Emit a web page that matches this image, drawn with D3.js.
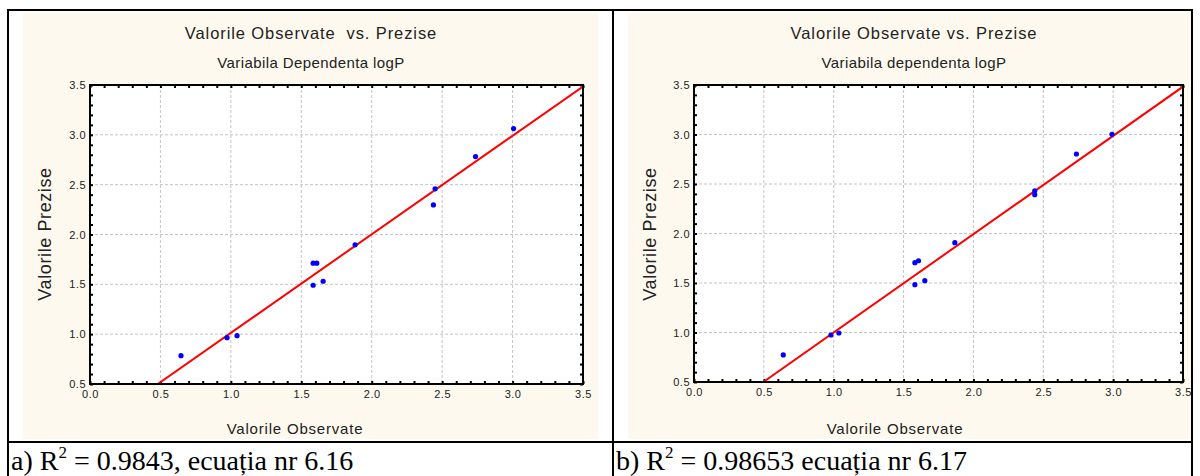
<!DOCTYPE html>
<html>
<head>
<meta charset="utf-8">
<script src="https://cdn.jsdelivr.net/npm/d3@7"></script>
<style>
  html, body { margin: 0; padding: 0; background: #fff; }
  svg { display: block; }
  .tick text { font-family: "Liberation Sans", Arial, sans-serif; }
</style>
</head>
<body>
<div id="chart"></div>
<script>
// ── Data ───────────────────────────────────────────────────────────────
const obsA = [0.646, 0.973, 1.044, 1.584, 1.610, 1.584, 1.655, 1.882, 2.450, 2.438, 2.737, 3.007];
const predA = [0.784, 0.965, 0.985, 1.712, 1.712, 1.491, 1.531, 1.896, 2.458, 2.297, 2.782, 3.063];
const fitA = [0.024, 0.989]; // intercept, slope

const obsB = [0.639, 0.980, 1.037, 1.581, 1.607, 1.581, 1.652, 1.867, 2.439, 2.439, 2.737, 2.992];
const predB = [0.773, 0.975, 0.995, 1.705, 1.725, 1.483, 1.523, 1.907, 2.432, 2.392, 2.803, 3.002];
const fitB = [0.0075, 0.993];

const xTicks = [0.0, 0.5, 1.0, 1.5, 2.0, 2.5, 3.0, 3.5];
const yTicks = [0.5, 1.0, 1.5, 2.0, 2.5, 3.0, 3.5];
const minorStep = 0.1;

const panels = [
  {
    title1: "Valorile Observate  vs. Prezise",
    title2: "Variabila Dependenta logP",
    xLabel: "Valorile Observate",
    yLabel: "Valorile Prezise",
    obs: obsA, pred: predA, fit: fitA,
    caption: ["a) R", "2", " = 0.9843, ecuația nr 6.16"],
    bg: [23, 13, 598, 439],
    plot: [90, 85, 583, 384],
    titleX: 311, xLabelX: 295, yLabelX: 45,
    captionX: 11,
  },
  {
    title1: "Valorile Observate vs. Prezise",
    title2: "Variabila dependenta logP",
    xLabel: "Valorile Observate",
    yLabel: "Valorile Prezise",
    obs: obsB, pred: predB, fit: fitB,
    caption: ["b) R", "2", " = 0.98653 ecuația nr 6.17"],
    bg: [628, 13, 1191, 439],
    plot: [694, 85, 1183, 382],
    titleX: 914, xLabelX: 895, yLabelX: 650,
    captionX: 616,
  },
];

// ── SVG ────────────────────────────────────────────────────────────────
const W = 1200, H = 476;
const svg = d3.select("#chart").append("svg").attr("width", W).attr("height", H);
const FONT = "'Liberation Sans', Arial, sans-serif";

panels.forEach((p) => {
  const [bx0, by0, bx1, by1] = p.bg;
  const [px0, py0, px1, py1] = p.plot;

  svg.append("rect")
    .attr("x", bx0).attr("y", by0)
    .attr("width", bx1 - bx0).attr("height", by1 - by0)
    .attr("fill", "#fdf9ee");

  const x = d3.scaleLinear().domain([0, 3.5]).range([px0, px1]);
  const y = d3.scaleLinear().domain([0.5, 3.5]).range([py1, py0]);
  const w = px1 - px0, h = py1 - py0;

  svg.append("rect")
    .attr("x", px0).attr("y", py0).attr("width", w).attr("height", h)
    .attr("fill", "#fff");

  // grid
  const grid = svg.append("g").attr("stroke", "#c4c4c4").attr("stroke-dasharray", "3,2");
  xTicks.slice(1, -1).forEach((t) => {
    grid.append("line").attr("x1", x(t)).attr("x2", x(t)).attr("y1", py0).attr("y2", py1);
  });
  yTicks.slice(1, -1).forEach((t) => {
    grid.append("line").attr("x1", px0).attr("x2", px1).attr("y1", y(t)).attr("y2", y(t));
  });

  // minor ticks on all four sides, pointing inward
  const minorX = d3.range(xTicks[0], xTicks[xTicks.length - 1] + 1e-6, minorStep);
  const minorY = d3.range(yTicks[0], yTicks[yTicks.length - 1] + 1e-6, minorStep);
  const tickAxis = (axis, vals, tr) => {
    const g = svg.append("g").attr("transform", tr)
      .call(axis.tickValues(vals).tickSize(-3).tickFormat(""));
    g.select(".domain").remove();
    g.selectAll("line").attr("stroke", "#000").attr("stroke-width", 2);
  };
  tickAxis(d3.axisBottom(x), minorX, `translate(0,${py1})`);
  tickAxis(d3.axisTop(x), minorX, `translate(0,${py0})`);
  tickAxis(d3.axisLeft(y), minorY, `translate(${px0},0)`);
  tickAxis(d3.axisRight(y), minorY, `translate(${px1},0)`);

  // tick labels
  const xa = svg.append("g").attr("transform", `translate(0,${py1})`)
    .call(d3.axisBottom(x).tickValues(xTicks).tickSize(0).tickPadding(6).tickFormat(d3.format(".1f")));
  xa.select(".domain").remove();
  xa.selectAll("text").attr("font-size", 11).attr("fill", "#222").attr("letter-spacing", 0.5);

  const ya = svg.append("g").attr("transform", `translate(${px0},0)`)
    .call(d3.axisLeft(y).tickValues(yTicks).tickSize(0).tickPadding(4).tickFormat(d3.format(".1f")));
  ya.select(".domain").remove();
  ya.selectAll("text").attr("font-size", 11).attr("fill", "#222").attr("letter-spacing", 0.5);

  // fit line, clipped to the plot
  const clipId = "clip" + px0;
  svg.append("clipPath").attr("id", clipId)
    .append("rect").attr("x", px0).attr("y", py0).attr("width", w).attr("height", h);
  const [a, b] = p.fit;
  const x0 = (0.5 - a) / b;
  svg.append("line")
    .attr("clip-path", `url(#${clipId})`)
    .attr("x1", x(x0)).attr("y1", y(0.5))
    .attr("x2", x(3.5)).attr("y2", y(a + b * 3.5))
    .attr("stroke", "#ff0000").attr("stroke-width", 2);

  // points
  svg.append("g").selectAll("circle")
    .data(p.obs.map((o, i) => [o, p.pred[i]]))
    .join("circle")
    .attr("cx", (d) => x(d[0])).attr("cy", (d) => y(d[1]))
    .attr("r", 2.6).attr("fill", "#0000ff");

  // frame
  svg.append("rect")
    .attr("x", px0).attr("y", py0).attr("width", w).attr("height", h)
    .attr("fill", "none").attr("stroke", "#000").attr("stroke-width", 2);

  // titles and labels
  const txt = (tx, ty, s, size, ls) => svg.append("text")
    .attr("x", tx).attr("y", ty).attr("text-anchor", "middle")
    .attr("font-family", FONT).attr("font-size", size).attr("fill", "#222")
    .attr("letter-spacing", ls).style("white-space", "pre").text(s);
  txt(p.titleX, 39, p.title1, 16.5, 0.9);
  txt(p.titleX, 68, p.title2, 15, 0.4);
  txt(p.xLabelX, 434, p.xLabel, 15, 0.8);
  txt(0, 0, p.yLabel, 18, 0.6).attr("transform", `translate(${p.yLabelX + 6},234) rotate(-90)`);

  // caption
  const cap = svg.append("text")
    .attr("x", p.captionX).attr("y", 470)
    .attr("font-family", "'Liberation Serif', 'Times New Roman', serif")
    .attr("font-size", 28).attr("fill", "#000");
  cap.append("tspan").text(p.caption[0]);
  cap.append("tspan").attr("font-size", 17).attr("dy", -12).text(p.caption[1]);
  cap.append("tspan").attr("dy", 12).text(p.caption[2]);
});

// ── Table borders ──────────────────────────────────────────────────────
const border = svg.append("g").attr("stroke", "#000").attr("stroke-width", 2);
border.append("line").attr("x1", 7).attr("x2", 1193).attr("y1", 10).attr("y2", 10);
border.append("line").attr("x1", 7).attr("x2", 1193).attr("y1", 442).attr("y2", 442);
border.append("line").attr("x1", 8).attr("x2", 8).attr("y1", 9).attr("y2", H);
border.append("line").attr("x1", 613).attr("x2", 613).attr("y1", 9).attr("y2", H);
border.append("line").attr("x1", 1192).attr("x2", 1192).attr("y1", 9).attr("y2", H);
</script>
</body>
</html>
